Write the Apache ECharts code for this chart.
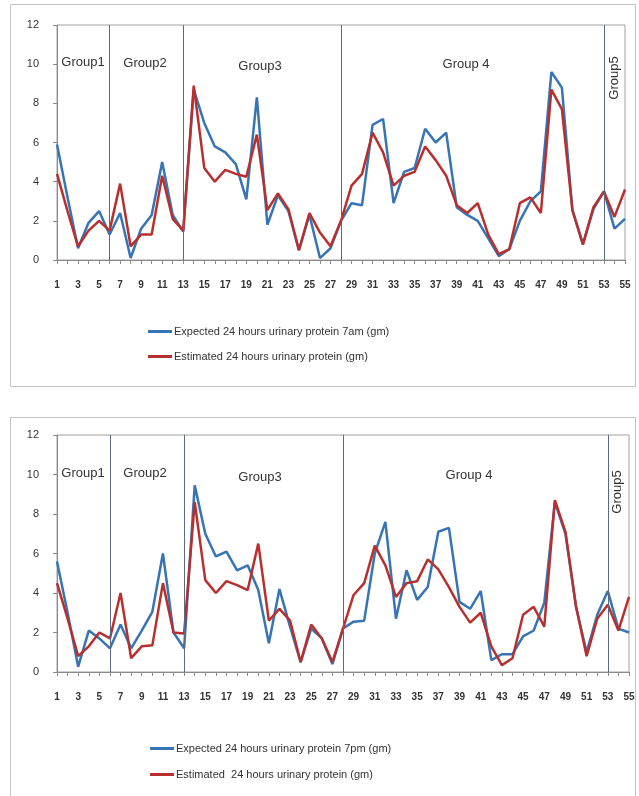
<!DOCTYPE html>
<html>
<head>
<meta charset="utf-8">
<script src="https://cdn.jsdelivr.net/npm/echarts@6/dist/echarts.min.js"></script>
<style>
  html, body { margin: 0; padding: 0; background: #ffffff; }
  #chart { width: 639px; height: 796px; }
</style>
</head>
<body>
<div id="chart"></div>
<script>
// Patient numbers 1..55 along the category axis
const patients = [];
for (let i = 1; i <= 55; i++) patients.push(String(i));

// Upper panel: morning (7am) expected vs estimated 24h urinary protein (gm)
const expected7am = [5.9, 3.2, 0.6, 1.9, 2.5, 1.3, 2.4, 0.1, 1.6, 2.3,
  5.0, 2.3, 1.45, 8.7, 7.0, 5.8, 5.5, 4.9, 3.1, 8.3,
  1.8, 3.3, 2.5, 0.5, 2.3, 0.1, 0.6, 2.0, 2.9, 2.8,
  6.9, 7.2, 2.9, 4.5, 4.7, 6.7, 6.0, 6.5, 2.7, 2.3,
  2.0, 1.1, 0.2, 0.55, 2.0, 3.0, 3.5, 9.6, 8.8, 2.55,
  0.8, 2.6, 3.5, 1.6, 2.1];
const estimatedA = [4.4, 2.5, 0.7, 1.5, 2.0, 1.5, 3.9, 0.7, 1.3, 1.3,
  4.3, 2.1, 1.5, 8.9, 4.7, 4.0, 4.6, 4.4, 4.25, 6.4,
  2.55, 3.4, 2.6, 0.5, 2.4, 1.4, 0.7, 2.0, 3.8, 4.4,
  6.5, 5.5, 3.8, 4.3, 4.5, 5.8, 5.1, 4.3, 2.8, 2.4,
  2.9, 1.3, 0.3, 0.55, 2.9, 3.2, 2.4, 8.7, 7.7, 2.55,
  0.8, 2.7, 3.5, 2.2, 3.6];

// Lower panel: evening (7pm) expected vs estimated 24h urinary protein (gm)
const expected7pm = [5.6, 3.0, 0.27, 2.1, 1.7, 1.2, 2.4, 1.2, 2.1, 3.05,
  6.0, 2.0, 1.2, 9.45, 7.0, 5.85, 6.1, 5.15, 5.4, 4.15,
  1.45, 4.2, 2.3, 0.5, 2.2, 1.7, 0.4, 2.2, 2.55, 2.6,
  6.0, 7.6, 2.7, 5.15, 3.65, 4.3, 7.1, 7.3, 3.55, 3.2,
  4.1, 0.6, 0.9, 0.9, 1.8, 2.1, 3.5, 8.6, 7.0, 3.3,
  1.0, 2.9, 4.1, 2.2, 2.0];
const estimatedB = [4.5, 2.7, 0.8, 1.3, 2.0, 1.7, 4.0, 0.7, 1.3, 1.35,
  4.5, 2.0, 1.95, 8.6, 4.65, 4.0, 4.6, 4.4, 4.15, 6.5,
  2.6, 3.2, 2.6, 0.5, 2.4, 1.7, 0.5, 2.2, 3.9, 4.5,
  6.4, 5.4, 3.8, 4.5, 4.6, 5.7, 5.2, 4.3, 3.3, 2.5,
  3.0, 1.3, 0.35, 0.7, 2.9, 3.3, 2.3, 8.7, 7.1, 3.3,
  0.8, 2.7, 3.4, 2.1, 3.8];

// Patient numbers where one group ends and the next begins
const groupBreaks = ['6', '13', '28', '53'];
const groupNames = ['Group1', 'Group2', 'Group3', 'Group 4', 'Group5'];

const seriesNames = {
  exp7am: 'Expected 24 hours urinary protein 7am (gm)',
  estA: 'Estimated 24 hours urinary protein (gm)',
  exp7pm: 'Expected 24 hours urinary protein 7pm (gm)',
  estB: 'Estimated  24 hours urinary protein (gm)'
};

const BLUE = '#3674b6';
const RED = '#b8302e';
const AXIS = '#8a8a8a';
const TEXT = '#333333';
const FONT = '"Liberation Sans", Arial, sans-serif';

function xAxisFor(gridIndex) {
  return {
    type: 'category', gridIndex, data: patients, boundaryGap: false,
    axisLine: { lineStyle: { color: AXIS, width: 1 } },
    axisTick: { show: true, interval: 0, length: 4, lineStyle: { color: AXIS } },
    axisLabel: { interval: 1, color: TEXT, fontSize: 10, fontWeight: 'bold', fontFamily: FONT, margin: 20 },
    splitLine: { show: false }
  };
}
function yAxisFor(gridIndex) {
  return {
    type: 'value', gridIndex, min: 0, max: 12, interval: 2,
    axisLine: { show: true, lineStyle: { color: AXIS, width: 1 } },
    axisTick: { show: true, length: 4, lineStyle: { color: AXIS } },
    axisLabel: { color: TEXT, fontSize: 11, fontFamily: FONT, margin: 18 },
    splitLine: { show: false }
  };
}
function dividerLines() {
  return {
    silent: true, symbol: ['none', 'none'], label: { show: false },
    lineStyle: { color: '#5b6a80', width: 1, type: 'solid' },
    data: groupBreaks.map(b => ({ xAxis: b }))
  };
}
function lineSeries(name, data, color, idx, withDividers) {
  const s = {
    name, type: 'line', data, xAxisIndex: idx, yAxisIndex: idx,
    showSymbol: false, symbol: 'none',
    lineStyle: { color, width: 2.5 }, itemStyle: { color },
    emphasis: { disabled: true }, animation: false
  };
  if (withDividers) s.markLine = dividerLines();
  return s;
}
function groupText(x, y, text, rotate) {
  return {
    type: 'text', x, y, rotation: rotate ? Math.PI / 2 : 0,
    style: { text, fill: TEXT, font: '13px ' + FONT, align: 'center', verticalAlign: 'middle' }
  };
}

const chart = echarts.init(document.getElementById('chart'), null, { renderer: 'canvas' });
chart.setOption({
  backgroundColor: '#ffffff',
  animation: false,
  grid: [
    { left: 57, top: 25, right: 14, height: 235, show: true, borderColor: '#a0a0a0', borderWidth: 1, backgroundColor: 'transparent' },
    { left: 57, top: 435, right: 10, height: 237, show: true, borderColor: '#a0a0a0', borderWidth: 1, backgroundColor: 'transparent' }
  ],
  xAxis: [xAxisFor(0), xAxisFor(1)],
  yAxis: [yAxisFor(0), yAxisFor(1)],
  legend: [
    {
      orient: 'vertical', left: 143, top: 321, itemGap: 14, itemWidth: 24, itemHeight: 3,
      icon: 'rect', itemStyle: { borderWidth: 0 },
      textStyle: { color: TEXT, fontSize: 11, fontFamily: FONT, padding: [0, 0, 0, -3] },
      data: [seriesNames.exp7am, seriesNames.estA], selectedMode: false
    },
    {
      orient: 'vertical', left: 145, top: 738, itemGap: 15, itemWidth: 24, itemHeight: 3,
      icon: 'rect', itemStyle: { borderWidth: 0 },
      textStyle: { color: TEXT, fontSize: 11, fontFamily: FONT, padding: [0, 0, 0, -3] },
      data: [seriesNames.exp7pm, seriesNames.estB], selectedMode: false
    }
  ],
  graphic: [
    { type: 'rect', shape: { x: 10.5, y: 4.5, width: 625, height: 382 }, style: { fill: 'none', stroke: '#c4c4c4', lineWidth: 1 }, silent: true, z: -1 },
    { type: 'rect', shape: { x: 10.5, y: 417.5, width: 625, height: 392 }, style: { fill: 'none', stroke: '#c4c4c4', lineWidth: 1 }, silent: true, z: -1 },
    groupText(83, 62, groupNames[0]),
    groupText(145, 63, groupNames[1]),
    groupText(260, 66, groupNames[2]),
    groupText(466, 64, groupNames[3]),
    groupText(614, 78, groupNames[4], true),
    groupText(83, 473, groupNames[0]),
    groupText(145, 473, groupNames[1]),
    groupText(260, 477, groupNames[2]),
    groupText(469, 475, groupNames[3]),
    groupText(617, 492, groupNames[4], true)
  ],
  series: [
    lineSeries(seriesNames.exp7am, expected7am, BLUE, 0, true),
    lineSeries(seriesNames.estA, estimatedA, RED, 0, false),
    lineSeries(seriesNames.exp7pm, expected7pm, BLUE, 1, true),
    lineSeries(seriesNames.estB, estimatedB, RED, 1, false)
  ]
});
</script>
</body>
</html>
